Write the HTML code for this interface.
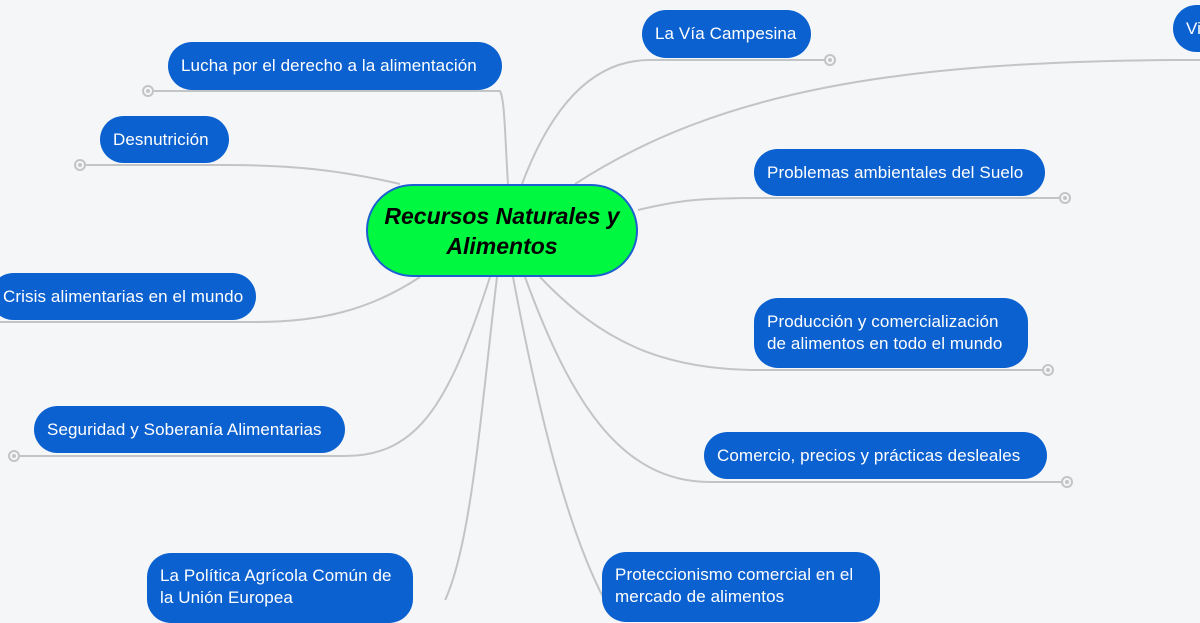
<!DOCTYPE html>
<html><head><meta charset="utf-8"><style>
body{margin:0;width:1200px;height:600px;overflow:hidden;background:#f5f6f8;position:relative;font-family:"Liberation Sans",sans-serif}
.n{position:absolute;background:#0b61cf;color:#fff;font-size:17px;letter-spacing:0.1px;line-height:22px;border-radius:24px;box-sizing:border-box;padding:0 13px;display:flex;align-items:center;white-space:nowrap}
.c{position:absolute;left:366px;top:184px;width:272px;height:93px;background:#00f940;border:2px solid #1d5fd0;border-radius:47px;box-sizing:border-box;display:flex;align-items:center;justify-content:center;text-align:center;font-weight:bold;font-style:italic;font-size:23px;line-height:30px;color:#000}
svg{position:absolute;left:0;top:0}
</style></head><body>
<svg width="1200" height="600" fill="none" stroke="#c2c4c6" stroke-width="2">
<path d="M508 184 C505 140 505 100 500 91 H148"/>
<path d="M400 184 C340 170 290 165 229 165 H80"/>
<path d="M420 277 C370 310 320 322 256 322 H0"/>
<path d="M490 277 C450 400 420 456 345 456 H14"/>
<path d="M497 277 C480 420 470 560 440 610"/>
<path d="M522 184 C550 110 590 60 650 60 H830"/>
<path d="M575 184 C720 90 900 62 1173 60 H1200"/>
<path d="M638 210 C680 200 700 198 760 198 H1065"/>
<path d="M540 277 C600 340 660 370 760 370 H1048"/>
<path d="M525 277 C570 400 620 482 710 482 H1067"/>
<path d="M513 277 C540 420 570 540 610 610"/>
<g fill="#f5f6f8" stroke="#c2c4c6" stroke-width="2">
<circle cx="148" cy="91" r="5"/><circle cx="80" cy="165" r="5"/><circle cx="14" cy="456" r="5"/>
<circle cx="830" cy="60" r="5"/><circle cx="1065" cy="198" r="5"/><circle cx="1048" cy="370" r="5"/><circle cx="1067" cy="482" r="5"/>
</g>
<g fill="#c2c4c6" stroke="none">
<circle cx="148" cy="91" r="2"/><circle cx="80" cy="165" r="2"/><circle cx="14" cy="456" r="2"/>
<circle cx="830" cy="60" r="2"/><circle cx="1065" cy="198" r="2"/><circle cx="1048" cy="370" r="2"/><circle cx="1067" cy="482" r="2"/>
</g>
</svg>
<div class="n" style="left:168px;top:42px;width:334px;height:48px">Lucha por el derecho a la alimentación</div>
<div class="n" style="left:100px;top:116px;width:129px;height:47px">Desnutrición</div>
<div class="n" style="left:-10px;top:273px;width:266px;height:47px">Crisis alimentarias en el mundo</div>
<div class="n" style="left:34px;top:406px;width:311px;height:47px">Seguridad y Soberanía Alimentarias</div>
<div class="n" style="left:147px;top:553px;width:266px;height:70px;align-items:flex-start;padding-top:12px">La Política Agrícola Común de<br>la Unión Europea</div>
<div class="n" style="left:642px;top:10px;width:169px;height:48px">La Vía Campesina</div>
<div class="n" style="left:1173px;top:5px;width:60px;height:47px">Vi</div>
<div class="n" style="left:754px;top:149px;width:291px;height:47px">Problemas ambientales del Suelo</div>
<div class="n" style="left:754px;top:298px;width:274px;height:70px">Producción y comercialización<br>de alimentos en todo el mundo</div>
<div class="n" style="left:704px;top:432px;width:343px;height:47px">Comercio, precios y prácticas desleales</div>
<div class="n" style="left:602px;top:552px;width:278px;height:70px;align-items:flex-start;padding-top:12px">Proteccionismo comercial en el<br>mercado de alimentos</div>
<div class="c">Recursos Naturales y<br>Alimentos</div>
</body></html>
